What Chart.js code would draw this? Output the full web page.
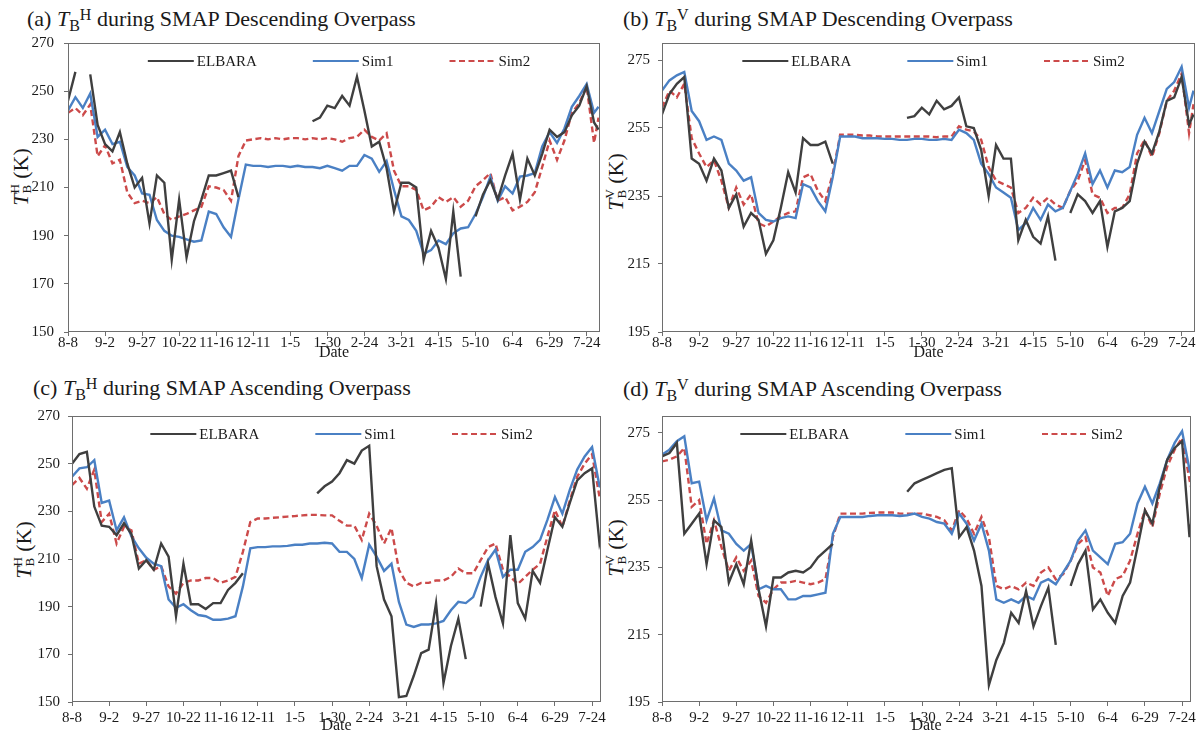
<!DOCTYPE html>
<html>
<head>
<meta charset="utf-8">
<script src="https://cdn.jsdelivr.net/npm/chart.js@4.4.1/dist/chart.umd.min.js"></script>
<style>
body { margin: 0; background: #fff; width: 1203px; height: 742px; position: relative; overflow: hidden;
       font-family: "Liberation Serif", "Times New Roman", serif; color: #1a1a1a; }
canvas { position: absolute; }
.ttl { position: absolute; font-size: 22px; line-height: 22px; white-space: nowrap; }
.sb { position: relative; top: 5px; font-size: 16px; }
.sp { position: relative; top: -6px; font-size: 16px; }
.yt { position: absolute; font-size: 22px; line-height: 22px; white-space: nowrap;
      transform: translate(-50%, -50%) rotate(-90deg); }
.ysb { position: relative; top: 3px; font-size: 13px; }
.ysp { position: relative; top: -9px; font-size: 13px; margin-left: -8.7px; }
</style>
</head>
<body>
<div class="ttl" style="left:27px;top:8px">(a) <i>T</i><span class="sb">B</span><span class="sp">H</span> during SMAP Descending Overpass</div>
<div class="ttl" style="left:623px;top:8px">(b) <i>T</i><span class="sb">B</span><span class="sp">V</span> during SMAP Descending Overpass</div>
<div class="ttl" style="left:33px;top:377px">(c) <i>T</i><span class="sb">B</span><span class="sp">H</span> during SMAP Ascending Overpass</div>
<div class="ttl" style="left:623px;top:378px">(d) <i>T</i><span class="sb">B</span><span class="sp">V</span> during SMAP Ascending Overpass</div>

<div class="yt" style="left:22px;top:177px"><i>T</i><span class="ysb">B</span><span class="ysp">H</span> (K)</div>
<div class="yt" style="left:617px;top:182px"><i>T</i><span class="ysb">B</span><span class="ysp">V</span> (K)</div>
<div class="yt" style="left:25px;top:550px"><i>T</i><span class="ysb">B</span><span class="ysp">H</span> (K)</div>
<div class="yt" style="left:617px;top:548px"><i>T</i><span class="ysb">B</span><span class="ysp">V</span> (K)</div>

<canvas id="chart-a"></canvas>
<canvas id="chart-b"></canvas>
<canvas id="chart-c"></canvas>
<canvas id="chart-d"></canvas>

<script>
const colElbara = "#3f3f3f";
const colSim1 = "#4a80c4";
const colSim2 = "#cc4a4a";
const txtCol = "#1a1a1a";
const axisCol = "#6e6e6e";

// day index from 8-8, one value every 5 days (+ last day)
const days = [];
for (let d = 0; d <= 355; d += 5) days.push(d);
days.push(358);

const tickLabels = ["8-8", "9-2", "9-27", "10-22", "11-16", "12-11", "1-5", "1-30",
	"2-24", "3-21", "4-15", "5-10", "6-4", "6-29", "7-24"];
const hTicks = [150, 170, 190, 210, 230, 250, 270];
const vTicks = [195, 215, 235, 255, 275];

//#region data (a) TB-H descending
const aElbara = [
	246, 258, null, 257, 236,
	228, 225, 233, 220, 210,
	214, 195, 215, 212, 180,
	205, 181, 196, 205, 215,
	215, 216, 217, 206, null,
	null, null, null, null, null,
	null, null, null, 237.5, 239,
	244, 243, 248, 244, 256,
	242, 227, 229, 218, 200,
	212, 212, 210, 180, 192,
	185, 172, 200, 173, null,
	198, 207, 213, 205, 215,
	224, 205, 222, 215, 224,
	234, 231, 233, 240, 244,
	252, 237, 234,
];
const aSim1 = [
	242, 247.5, 243, 249, 231,
	234, 228, 229, 218.5, 215,
	207.5, 207, 196.5, 192, 190,
	189.5, 188.5, 187.5, 188, 200,
	199, 193.5, 189.5, 205, 219.5,
	219, 219, 218.5, 219, 219,
	218.5, 219, 218.5, 218.5, 218,
	219, 218, 217, 219, 219,
	223.5, 222, 216.5, 221, 209,
	198, 196.5, 192, 182.5, 184,
	188, 186.5, 191, 193, 193.5,
	199, 206, 214.5, 204.5, 210.5,
	207.5, 214.5, 215, 216, 227,
	233, 228.5, 234.5, 243.5, 248,
	253, 241, 243.5,
];
const aSim2 = [
	241, 243, 240, 244.5, 223,
	227.5, 220, 221.5, 208, 203.5,
	204.5, 203.5, 206, 199, 196.5,
	198, 199, 200.5, 202, 210.5,
	210, 209, 204.5, 223, 229.5,
	230, 230.5, 230, 230.5, 230,
	230.5, 230.5, 230, 230.5, 230,
	230.5, 230, 229, 230.5, 231,
	234, 231, 229.5, 232.5, 217,
	210.5, 210.5, 209, 200.5, 202,
	206, 204, 206, 202, 204.5,
	210.5, 213, 216, 204.5, 206,
	200.5, 202, 204, 208, 218.5,
	229.5, 221.5, 229.5, 241, 245,
	252, 228.5, 239,
];
//#endregion

//#region data (b) TB-V descending
const bElbara = [
	259, 265, 268, 270, 246,
	244.5, 239.5, 246, 242.5, 231.5,
	235.5, 226, 230, 228, 218,
	222, 231.5, 242, 236, 252,
	250, 250, 251, 244.5, null,
	null, null, null, null, null,
	null, null, null, 258, 258.5,
	261, 259, 263, 260.5, 261.5,
	264, 255.5, 255, 248.5, 235,
	250, 246, 246, 222, 228,
	223, 221, 229, 216, null,
	230, 235.5, 233.5, 230, 233.5,
	220, 230.5, 231.5, 233.5, 244.5,
	251, 247.5, 254, 263, 264,
	270, 256, 259,
];
const bSim1 = [
	266, 269, 270.5, 271.5, 260,
	257, 251.5, 252.5, 251.5, 244.5,
	242.5, 239.5, 240.5, 230, 228,
	227.5, 228.5, 229, 228.5, 238.5,
	237.5, 233.5, 230.5, 240.5, 252.5,
	252.5, 252.5, 252, 252, 252,
	251.8, 251.8, 251.5, 251.5, 251.8,
	251.8, 251.5, 251.5, 251.8, 251.5,
	254.5, 253.5, 251.5, 244.5, 241.5,
	237.5, 236, 234.5, 225, 227,
	231.5, 228, 232.5, 230.5, 231.5,
	236.5, 241.5, 247.5, 238.5, 242.5,
	237.5, 242.5, 242, 243.5, 253,
	258, 253.5, 260, 266.5, 268.5,
	273, 261, 266,
];
const bSim2 = [
	261, 266, 264, 268, 252,
	247.5, 243.5, 245.5, 239.5, 231.5,
	237.5, 232.5, 235.5, 227, 226,
	227.5, 229, 230, 230.5, 240.5,
	241.5, 236.5, 233.5, 241.5, 253,
	253, 253, 252.8, 252.8, 252.5,
	252.5, 252.5, 252.5, 252.5, 252.5,
	252.5, 252.5, 252.3, 252.5, 252.5,
	255.5, 254.5, 254, 251.5, 243.5,
	239.5, 238.5, 237.5, 230, 231.5,
	234.5, 232.5, 234.5, 232.5, 231.5,
	236.5, 239.5, 245.5, 235.5, 234.5,
	230, 231.5, 231.5, 235.5, 247.5,
	251.5, 246.5, 253.5, 263, 266,
	271, 253.5, 262,
];
//#endregion

//#region data (c) TB-H ascending
const cElbara = [
	250, 254, 255, 232, 224,
	223.5, 220, 225, 220.5, 206,
	209.5, 205.5, 216.5, 211, 186,
	208, 191, 191, 189, 191.5,
	191.5, 197, 200, 204, null,
	null, null, null, null, null,
	null, null, null, 237.5, 240.5,
	242.5, 246, 251.5, 250, 255.5,
	257.5, 207, 193, 186, 152,
	152.5, 161, 170.5, 172, 191.5,
	158, 173.5, 185, 168, null,
	190, 208, 194, 183, 220,
	191.5, 185, 205, 200, 214,
	227.5, 223.5, 233.5, 243, 246,
	248, 216.5, 223.5,
];
const cSim1 = [
	244.5, 248, 248.5, 251.5, 233.5,
	234.5, 222, 227.5, 219.5, 214.5,
	210.5, 208, 207, 193, 189.5,
	191, 188.5, 186.5, 186, 184.5,
	184.5, 185, 186, 198.5, 214.5,
	215, 215, 215.3, 215.3, 215.5,
	216, 216, 216.5, 216.5, 216.8,
	216.5, 213, 213, 210, 202,
	216, 211, 205, 208, 192,
	182.5, 181.5, 182.5, 182.5, 183,
	184, 188.5, 192, 191.5, 194,
	202.5, 209.5, 214, 202.5, 205.5,
	205.5, 213, 215, 218, 226.5,
	236, 229, 239, 247.5, 253,
	257, 240.5, 240,
];
const cSim2 = [
	241, 244, 239.5, 247.5, 225.5,
	229, 216.5, 223.5, 222, 208,
	209.5, 205.5, 207, 198.5, 195.5,
	200, 201, 201, 202, 202,
	200, 201, 202.5, 213, 225.5,
	227, 227, 227.3, 227.5, 227.8,
	228, 228.3, 228.5, 228.5, 228.3,
	228.3, 226, 224, 224, 218,
	229, 224, 216.5, 223, 205.5,
	200, 198.5, 200, 200, 201,
	201, 202.5, 206, 204, 204,
	209.5, 215, 216.5, 205.5, 202.5,
	199.5, 202.5, 205.5, 208, 219.5,
	230.5, 223.5, 234.5, 244.5, 250,
	254, 236, 233,
];
//#endregion

//#region data (d) TB-V ascending
const dElbara = [
	268, 269, 272, 245, 248,
	251, 236, 249, 247, 230.5,
	236, 230, 243, 228.5, 217.5,
	232, 232, 233.5, 234, 233.5,
	235, 238, 240, 242, null,
	null, null, null, null, null,
	null, null, null, 257.5, 260,
	261, 262, 263, 264, 264.5,
	244, 247, 240, 229.5, 200,
	207.5, 212.5, 221.5, 218.5, 228,
	217.5, 223.5, 229, 212, null,
	229.5, 236, 240, 222.5, 225.5,
	221.5, 218.5, 226.5, 230.5, 241,
	252, 248, 259, 267, 270.5,
	272.5, 244, 255,
];
const dSim1 = [
	268.5, 270, 272.5, 274, 260,
	260.5, 249, 255.5, 246, 245,
	242, 240, 242, 228.5, 229.5,
	228.5, 228.5, 225.5, 225.5, 226.5,
	226.5, 227, 227.5, 245, 250,
	250, 250, 250, 250.3, 250.5,
	250.5, 250.5, 250.3, 250.5, 251,
	250, 249.5, 248.5, 248, 245,
	251, 248, 243, 248, 240,
	225.5, 224.5, 225.5, 224.5, 226.5,
	225.5, 230.5, 231.5, 230, 233.5,
	237, 243, 246, 240, 238,
	236, 242, 242.5, 245, 254,
	259, 254, 260, 267, 272,
	275.5, 264, 261,
];
const dSim2 = [
	266.5, 267, 268, 270.5, 253,
	255, 242, 249, 241, 234,
	238, 234, 237, 226.5, 224.5,
	228.5, 230.5, 230.5, 231, 230.5,
	230, 230.5, 231.5, 244, 251,
	251, 251, 251, 251.2, 251.3,
	251.3, 251.3, 251, 251, 251,
	251, 250.5, 250, 249, 246,
	252, 249.5, 245, 250, 244,
	229.5, 228.5, 229.5, 228.5, 230.5,
	229.5, 233.5, 235, 231.5, 233,
	237, 242, 244, 235, 233.5,
	226.5, 231.5, 232.5, 237, 245,
	252, 247, 257, 265, 270,
	273.5, 261, 255,
];
//#endregion

const serif = "Liberation Serif";

// box around the plot area
const framePlugin = {
	id: "frame",
	afterDraw(chart) {
		const { ctx, chartArea: a } = chart;
		ctx.save();
		ctx.strokeStyle = axisCol;
		ctx.lineWidth = 1;
		ctx.strokeRect(Math.round(a.left) + 0.5, Math.round(a.top) + 0.5,
			Math.round(a.right - a.left) - 1, Math.round(a.bottom - a.top) - 1);
		ctx.restore();
	},
};

// legend drawn inside the plot, one row at the top
const innerLegend = {
	id: "innerLegend",
	afterDatasetsDraw(chart) {
		const { ctx, chartArea: a } = chart;
		ctx.save();
		ctx.font = "15px '" + serif + "'";
		const lineLen = 46, gapText = 3, gapItem = 56;
		const items = chart.data.datasets.map(ds => ({ ds, w: ctx.measureText(ds.label).width }));
		const total = items.reduce((s, it) => s + lineLen + gapText + it.w, 0) + gapItem * (items.length - 1);
		let x = (a.left + a.right) / 2 + 5 - total / 2;
		const y = a.top + 18;
		items.forEach(it => {
			ctx.strokeStyle = it.ds.borderColor;
			ctx.lineWidth = 2.2;
			ctx.setLineDash(it.ds.borderDash || []);
			ctx.beginPath();
			ctx.moveTo(x, y);
			ctx.lineTo(x + lineLen, y);
			ctx.stroke();
			ctx.setLineDash([]);
			ctx.fillStyle = txtCol;
			ctx.textBaseline = "middle";
			ctx.fillText(it.ds.label, x + lineLen + gapText, y + 1);
			x += lineLen + gapText + it.w + gapItem;
		});
		ctx.restore();
	},
};

const toPoints = vals => days.map((d, i) => ({ x: d, y: vals[i] }));

function makeChart(id, box, series, yMin, yMax, yTicks, xMax, xTickPad, xAxisH, yTickPad) {
	const cv = document.getElementById(id);
	const w = box.R - box.L + 68;
	const h = box.B - box.T + 12 + xAxisH;
	cv.width = w;
	cv.height = h;
	cv.style.left = (box.L - 62) + "px";
	cv.style.top = (box.T - 12) + "px";
	cv.style.width = w + "px";
	cv.style.height = h + "px";

	const lineDs = (label, vals, color, dash) => ({
		label,
		data: toPoints(vals),
		borderColor: color,
		backgroundColor: color,
		borderWidth: 2.4,
		borderDash: dash,
		pointRadius: 0,
		tension: 0,
		fill: false,
		spanGaps: false,
	});

	new Chart(cv, {
		type: "line",
		data: {
			datasets: [
				lineDs("ELBARA", series[0], colElbara, []),
				lineDs("Sim1", series[1], colSim1, []),
				lineDs("Sim2", series[2], colSim2, [6, 3.5]),
			],
		},
		options: {
			responsive: false,
			animation: false,
			devicePixelRatio: 1,
			layout: { padding: { left: 0, top: 12, right: 6, bottom: 0 } },
			plugins: {
				legend: { display: false },
				tooltip: { enabled: false },
			},
			scales: {
				x: {
					type: "linear",
					min: 0,
					max: xMax,
					afterBuildTicks: s => { s.ticks = tickLabels.map((_, i) => ({ value: i * 25 })); },
					afterFit: s => { s.height = xAxisH; s.paddingLeft = 0; s.paddingRight = 0; },
					ticks: {
						autoSkip: false,
						maxRotation: 0,
						padding: xTickPad,
						color: txtCol,
						font: { family: serif, size: 15 },
						callback: v => tickLabels[Math.round(v / 25)],
					},
					grid: { drawOnChartArea: false, tickLength: 4, color: axisCol },
					border: { display: false },
					title: {
						display: true,
						text: "Date",
						color: txtCol,
						font: { family: serif, size: 16 },
						padding: 0,
					},
				},
				y: {
					min: yMin,
					max: yMax,
					afterBuildTicks: s => { s.ticks = yTicks.map(v => ({ value: v })); },
					afterFit: s => { s.width = 62; s.paddingTop = 0; s.paddingBottom = 0; },
					ticks: {
						padding: yTickPad,
						color: txtCol,
						font: { family: serif, size: 15 },
					},
					grid: { drawOnChartArea: false, tickLength: 4, color: axisCol },
					border: { display: false },
				},
			},
		},
		plugins: [framePlugin, innerLegend],
	});
}

makeChart("chart-a", { L: 68, T: 43, R: 600, B: 332 }, [aElbara, aSim1, aSim2], 150, 270, hTicks, 359, -2, 30, 10);
makeChart("chart-b", { L: 662, T: 43, R: 1195, B: 332 }, [bElbara, bSim1, bSim2], 195, 280, vTicks, 359, -2, 30, 8);
makeChart("chart-c", { L: 72, T: 416, R: 601, B: 702 }, [cElbara, cSim1, cSim2], 150, 270, hTicks, 356, 3, 33, 8);
makeChart("chart-d", { L: 662, T: 416, R: 1191, B: 702 }, [dElbara, dSim1, dSim2], 195, 280, vTicks, 356, 3, 33, 8);
</script>
</body>
</html>
